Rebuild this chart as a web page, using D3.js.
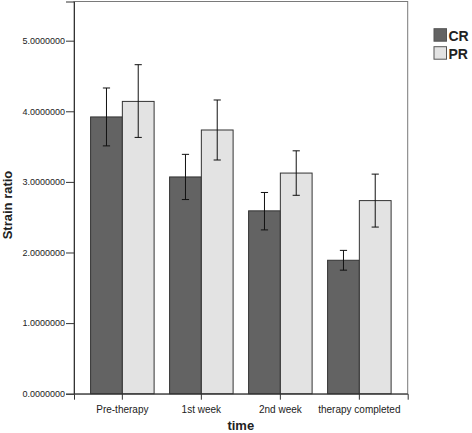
<!DOCTYPE html>
<html><head><meta charset="utf-8">
<script src="https://cdn.jsdelivr.net/npm/d3@7"></script>
<style>body{margin:0;background:#fff}svg{display:block}</style>
</head><body>
<script>
const categories = ["Pre-therapy", "1st week", "2nd week", "therapy completed"];
const seriesNames = ["CR", "PR"];
const crMean = [3.92, 3.07, 2.59, 1.89];
const crLow  = [3.51, 2.75, 2.32, 1.75];
const crHigh = [4.33, 3.39, 2.85, 2.03];
const prMean = [4.14, 3.735, 3.125, 2.735];
const prLow  = [3.63, 3.31, 2.81, 2.36];
const prHigh = [4.66, 4.16, 3.44, 3.11];
const yTicks = [0, 1, 2, 3, 4, 5];
const colors = ["#636363", "#e3e3e3"];

const W = 472, H = 433;
const L = 74, R = 407.7, T = 1.5, B = 393.7;
const svg = d3.select("body").append("svg").attr("width", W).attr("height", H);

const y = d3.scaleLinear().domain([0, 5.555]).range([B, T]);
const x0 = d3.scaleBand().domain(categories).range([L, R]).paddingInner(0.196).paddingOuter(0.21);
const x1 = d3.scaleBand().domain(seriesNames).range([0, x0.bandwidth()]);

const data = seriesNames.map((s, si) => categories.map((c, i) => ({
  cat: c, s, si,
  m: si ? prMean[i] : crMean[i],
  lo: si ? prLow[i] : crLow[i],
  hi: si ? prHigh[i] : crHigh[i]
}))).flat();

// frame
svg.append("rect").attr("x", L).attr("y", T).attr("width", R - L).attr("height", B - T)
  .attr("fill", "#fff").attr("stroke", "#7a7a7a").attr("stroke-width", 1);

// bars
svg.append("g").selectAll("rect").data(data).join("rect")
  .attr("x", d => x0(d.cat) + x1(d.s))
  .attr("y", d => y(d.m))
  .attr("width", x1.bandwidth())
  .attr("height", d => B - y(d.m))
  .attr("fill", d => colors[d.si])
  .attr("stroke", "#333").attr("stroke-width", 1);

// error bars
const eb = svg.append("g").attr("stroke", "#111").attr("stroke-width", 1);
data.forEach(d => {
  const cx = x0(d.cat) + x1(d.s) + x1.bandwidth() / 2;
  eb.append("line").attr("x1", cx).attr("x2", cx).attr("y1", y(d.lo)).attr("y2", y(d.hi));
  eb.append("line").attr("x1", cx - 3.6).attr("x2", cx + 3.6).attr("y1", y(d.lo)).attr("y2", y(d.lo));
  eb.append("line").attr("x1", cx - 3.6).attr("x2", cx + 3.6).attr("y1", y(d.hi)).attr("y2", y(d.hi));
});

// y axis
const ya = svg.append("g").attr("transform", `translate(${L},0)`)
  .call(d3.axisLeft(y).tickValues(yTicks).tickFormat(d3.format(".7f")).tickSize(8).tickPadding(1));
ya.select(".domain").attr("stroke", "#333");
ya.selectAll(".tick line").attr("stroke", "#333");
ya.selectAll("text").attr("font-family", "Liberation Sans, Arial, sans-serif").attr("font-size", 9).attr("fill", "#222");

// x axis
const xa = svg.append("g").attr("transform", `translate(0,${B})`)
  .call(d3.axisBottom(x0).tickSize(6).tickPadding(6));
xa.select(".domain").attr("stroke", "#333");
xa.selectAll(".tick line").attr("stroke", "#333");
xa.selectAll("text").attr("font-family", "Liberation Sans, Arial, sans-serif").attr("font-size", 10).attr("fill", "#222");

// titles
svg.append("text").attr("x", 240.8).attr("y", 430).attr("text-anchor", "middle")
  .attr("font-family", "Liberation Sans, Arial, sans-serif").attr("font-weight", "bold").attr("font-size", 13)
  .attr("fill", "#222").text("time");
svg.append("text").attr("transform", "translate(12,205) rotate(-90)").attr("text-anchor", "middle")
  .attr("font-family", "Liberation Sans, Arial, sans-serif").attr("font-weight", "bold").attr("font-size", 13)
  .attr("fill", "#222").text("Strain ratio");

// legend
const lg = svg.append("g");
seriesNames.forEach((s, i) => {
  lg.append("rect").attr("x", 434).attr("y", 28.7 + i * 18).attr("width", 12.5).attr("height", 12.5)
    .attr("fill", colors[i]).attr("stroke", "#555").attr("stroke-width", 1);
  lg.append("text").attr("x", 448.5).attr("y", 41 + i * 18)
    .attr("font-family", "Liberation Sans, Arial, sans-serif").attr("font-weight", "bold").attr("font-size", 14)
    .attr("fill", "#222").text(s);
});
</script>
</body></html>
